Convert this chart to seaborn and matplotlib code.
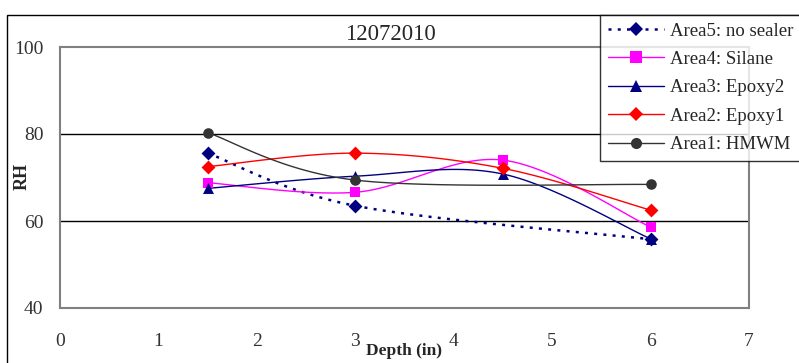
"""
RH versus depth for five sealer areas, 12072010.
"""
import matplotlib.pyplot as plt
import numpy as np
import pandas as pd
import seaborn as sns
from matplotlib.lines import Line2D
from matplotlib.patches import Rectangle

depth = [1.5, 3.0, 4.5, 6.0]
area5 = [75.6, 63.5, None, 55.8]
area4 = [68.8, 66.6, 74.0, 58.6]
area3 = [67.5, 70.3, 70.8, 55.9]
area2 = [72.5, 75.6, 72.1, 62.5]
area1 = [80.3, 69.4, None, 68.4]

labels = ["Area5: no sealer", "Area4: Silane", "Area3: Epoxy2",
          "Area2: Epoxy1", "Area1: HMWM"]
colors = ["#000080", "#FF00FF", "#000080", "#FF0000", "#333333"]
markers = ["D", "s", "^", "D", "o"]
styles = [(0, (1.2, 2.5)), "-", "-", "-", "-"]


def smooth(x, y, n=30):
    """Excel-style smoothed curve (Bezier through the points)."""
    x = np.asarray(x, float)
    y = np.asarray(y, float)
    px = np.r_[x[0], x, x[-1]]
    py = np.r_[y[0], y, y[-1]]
    xs, ys = [], []
    t = np.linspace(0, 1, n)[:, None]
    for i in range(1, len(px) - 2):
        p0 = np.array([px[i], py[i]])
        p3 = np.array([px[i + 1], py[i + 1]])
        p1 = p0 + (np.array([px[i + 1], py[i + 1]]) -
                   np.array([px[i - 1], py[i - 1]])) / 6
        p2 = p3 - (np.array([px[i + 2], py[i + 2]]) -
                   np.array([px[i], py[i]])) / 6
        b = (1 - t) ** 3 * p0 + 3 * (1 - t) ** 2 * t * p1 \
            + 3 * (1 - t) * t ** 2 * p2 + t ** 3 * p3
        xs.extend(b[:, 0])
        ys.extend(b[:, 1])
    return np.array(xs), np.array(ys)


sns.set_style("white")
plt.rcParams['font.family'] = ['Liberation Serif', 'DejaVu Serif']

fig = plt.figure(figsize=(7.99, 3.63), dpi=100)
ax = fig.add_axes([60 / 799, 1 - 308 / 363, 689 / 799, 261 / 363])

# outer chart frame
fig.patches.append(Rectangle((7 / 799, -0.2), 1.0, 1.2 - 15 / 363,
                             transform=fig.transFigure, fill=False,
                             edgecolor="black", linewidth=1.0, zorder=0))

# marker sizes (scatter area, legend markersize) per marker shape
scat_size = {"D": 50, "s": 55, "^": 62, "o": 58}
leg_size = {"D": 7, "s": 8, "^": 8, "o": 8}

series = [area5, area4, area3, area2, area1]
handles = []
for vals, lab, col, mk, ls in zip(series, labels, colors, markers, styles):
    df = pd.DataFrame({"x": depth, "y": vals}).dropna()
    sx, sy = smooth(df["x"], df["y"])
    lw = 1.8 if ls != "-" else 1.0
    sns.lineplot(x=sx, y=sy, sort=False, color=col, linestyle=ls,
                 linewidth=lw, ax=ax, zorder=3)
    sns.scatterplot(data=df, x="x", y="y", marker=mk, color=col,
                    s=scat_size[mk], linewidth=0, ax=ax, zorder=4)
    handles.append(Line2D([], [], color=col, linestyle=ls, marker=mk,
                          markersize=leg_size[mk], markeredgewidth=0,
                          linewidth=lw, label=lab))

ax.set_xlim(0, 7)
ax.set_ylim(40, 100)
ax.set_xticks(range(0, 8))
ax.set_yticks([40, 60, 80, 100])
for yv in [60, 80]:
    ax.axhline(yv, color="black", linewidth=1.0, zorder=1)
for sp in ax.spines.values():
    sp.set_color("#808080")
    sp.set_linewidth(1.5)
ax.tick_params(axis="x", length=0, pad=18, labelsize=14, labelcolor="#333333")
ax.tick_params(axis="y", length=0, pad=12, labelsize=14, labelcolor="#333333")
ax.set_xlabel("")
ax.set_ylabel("")

fig.text(390 / 799, 1 - 35 / 363, "12072010", ha="center", va="center",
         fontsize=16.5)
fig.text(404 / 799, 1 - 351 / 363, "Depth (in)", ha="center", va="center",
         fontsize=12.5, fontweight="bold")
fig.text(22 / 799, 1 - 176 / 363, "RH", ha="center", va="center",
         fontsize=13, fontweight="bold", rotation=90)

leg = fig.legend(handles=handles, loc="upper left",
                 bbox_to_anchor=(600 / 799, 1 - 15 / 363), fontsize=13.5,
                 frameon=True, fancybox=False, borderpad=0.4,
                 labelspacing=0.6, handlelength=3.0, handletextpad=0.35,
                 borderaxespad=0)
leg.get_frame().set_edgecolor("black")
leg.get_frame().set_linewidth(1.0)

fig.savefig("out.png", dpi=100)
